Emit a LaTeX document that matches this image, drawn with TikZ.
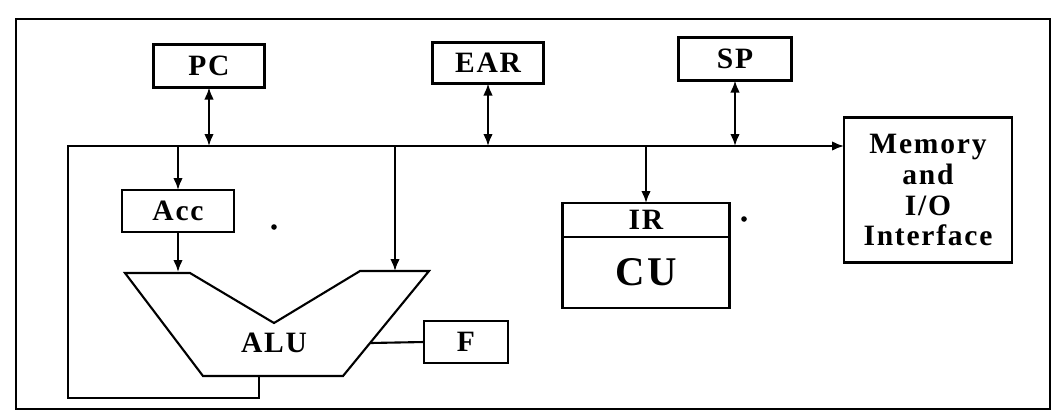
\documentclass[tikz,border=0pt]{standalone}
\usepackage{fontspec}
\setmainfont{Liberation Serif}[LetterSpace=6]
\usetikzlibrary{arrows.meta,positioning}
\newlength\pxu
\setlength\pxu{0.025cm}
\begin{document}
\begin{tikzpicture}[x=0.025cm, y=-0.025cm,
    reg/.style={draw, line width=1.5pt, inner sep=0pt, outer sep=0pt, align=center,
        font=\fontsize{21}{22}\selectfont\bfseries},
    wire/.style={line width=1.5pt},
    one/.style={wire, -{Latex[length=0.3cm,width=0.24cm]}},
    bi/.style={wire, {Latex[length=0.3cm,width=0.24cm]}-{Latex[length=0.3cm,width=0.24cm]}}]
        \useasboundingbox (0,0) rectangle (1062,417);
        %frame
        \draw[line width=2pt] (16,19) rectangle (1050,409);

        %registers
        \node[reg, minimum width=111\pxu, minimum height=43\pxu] (pc) at (209,66) {PC};
        \node[reg, minimum width=111\pxu, minimum height=41\pxu] (ear) at (488,63) {EAR};
        \node[reg, minimum width=113\pxu, minimum height=43\pxu] (sp) at (735,59) {SP};
        \node[reg, minimum width=168\pxu, minimum height=145\pxu] (mem) at (928,190) {Memory\\and\\I/O\\Interface};
        \node[reg, minimum width=112\pxu, minimum height=42\pxu] (acc) at (178,211) {Acc};
        \node[reg, minimum width=84\pxu, minimum height=42\pxu] (f) at (466,342) {F};
        \node[reg, minimum width=167\pxu, minimum height=34\pxu] (ir) at (646,220) {IR};
        \node[reg, minimum width=167\pxu, minimum height=71\pxu, below=0pt of ir,
            font=\fontsize{29}{30}\selectfont\bfseries] (cu) {CU};

        %alu
        \draw[wire] (125,273) -- (190,273) -- (274,323) -- (360,271) -- (429,271) -- (343,376) -- (203,376) -- cycle;
        \node[font=\fontsize{21}{22}\selectfont\bfseries] (alu) at (274,343) {ALU};
        \coordinate (alua) at (173,272);
        \coordinate (alub) at (395,271);
        \coordinate (aluf) at (370,343);
        \coordinate (aluo) at (259,376);

        %bus
        \coordinate (bl) at (68,146);
        \coordinate (busend) at (mem.west |- bl);
        \draw[one] (aluo) -- (259,398) -- (68,398) -- (bl) -- (busend);
        \draw[bi] (pc.south) -- (pc |- bl);
        \draw[bi] (ear.south) -- (ear |- bl);
        \draw[bi] (sp.south) -- (sp |- bl);
        \draw[one] (acc |- bl) -- (acc.north);
        \draw[one] (acc.south) -- (acc.south |- alua);
        \draw[one] (alub |- bl) -- (alub);
        \draw[one] (ir |- bl) -- (ir.north);
        \draw[wire] (aluf) -- (f.west);

        \fill (274,227) circle[radius=0.07cm];
        \fill (744,219) circle[radius=0.07cm];
    \end{tikzpicture}
\end{document}
